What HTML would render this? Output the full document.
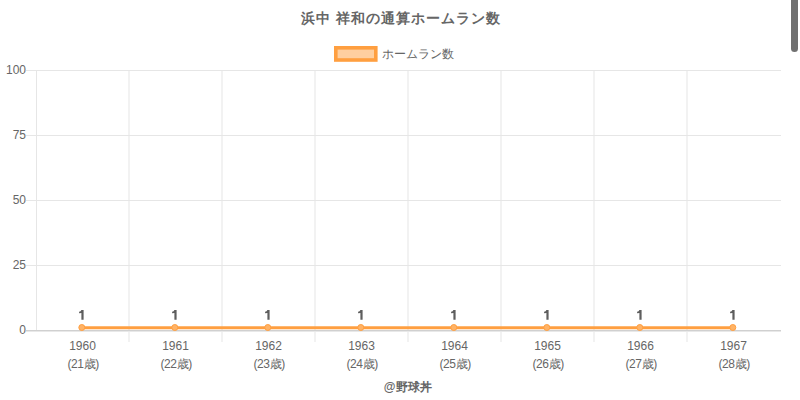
<!DOCTYPE html>
<html><head><meta charset="utf-8"><style>
html,body{margin:0;padding:0;background:#fff;width:800px;height:400px;overflow:hidden}
svg{display:block}
text{font-family:"Liberation Sans",sans-serif;fill:#666}
.t12{font-size:12px}
.b12{font-size:12px;font-weight:bold}
.b14{font-size:14.2px;font-weight:bold;letter-spacing:1px}
</style></head><body>
<svg width="800" height="400" viewBox="0 0 800 400">
<rect x="26" y="70" width="755" height="1" fill="#e6e6e6"/><rect x="26" y="135" width="755" height="1" fill="#e6e6e6"/><rect x="26" y="200" width="755" height="1" fill="#e6e6e6"/><rect x="26" y="265" width="755" height="1" fill="#e6e6e6"/><rect x="36" y="70" width="1" height="260" fill="#e6e6e6"/><rect x="128.5" y="70" width="1" height="272" fill="#e6e6e6"/><rect x="221.5" y="70" width="1" height="272" fill="#e6e6e6"/><rect x="314.5" y="70" width="1" height="272" fill="#e6e6e6"/><rect x="407.5" y="70" width="1" height="272" fill="#e6e6e6"/><rect x="500.5" y="70" width="1" height="272" fill="#e6e6e6"/><rect x="593.5" y="70" width="1" height="272" fill="#e6e6e6"/><rect x="686.5" y="70" width="1" height="272" fill="#e6e6e6"/><rect x="26" y="330" width="755" height="1" fill="#d0d0d0"/><rect x="26" y="331" width="755" height="1" fill="#e8e8e8"/>
<text x="26" y="73.5" text-anchor="end" class="t12">100</text><text x="26" y="138.5" text-anchor="end" class="t12">75</text><text x="26" y="203.5" text-anchor="end" class="t12">50</text><text x="26" y="268.5" text-anchor="end" class="t12">25</text><text x="26" y="333.5" text-anchor="end" class="t12">0</text>
<path d="M81.8 327.8 L732.8 327.8" stroke="#ff9f40" stroke-width="3" fill="none"/>
<circle cx="81.8" cy="327.5" r="3" fill="#ffb366" stroke="#ff9f40" stroke-width="1"/><circle cx="174.8" cy="327.5" r="3" fill="#ffb366" stroke="#ff9f40" stroke-width="1"/><circle cx="267.8" cy="327.5" r="3" fill="#ffb366" stroke="#ff9f40" stroke-width="1"/><circle cx="360.8" cy="327.5" r="3" fill="#ffb366" stroke="#ff9f40" stroke-width="1"/><circle cx="453.8" cy="327.5" r="3" fill="#ffb366" stroke="#ff9f40" stroke-width="1"/><circle cx="546.8" cy="327.5" r="3" fill="#ffb366" stroke="#ff9f40" stroke-width="1"/><circle cx="639.8" cy="327.5" r="3" fill="#ffb366" stroke="#ff9f40" stroke-width="1"/><circle cx="732.8" cy="327.5" r="3" fill="#ffb366" stroke="#ff9f40" stroke-width="1"/>
<path d="M81.40 310 L83.60 310 L83.60 319.8 L81.40 319.8 L81.40 313.1 Q80.30 313.2 79.10 313.3 L79.10 311.8 Q81.00 311.6 81.40 310 Z" fill="#5e5e5e"/><path d="M174.40 310 L176.60 310 L176.60 319.8 L174.40 319.8 L174.40 313.1 Q173.30 313.2 172.10 313.3 L172.10 311.8 Q174.00 311.6 174.40 310 Z" fill="#5e5e5e"/><path d="M267.40 310 L269.60 310 L269.60 319.8 L267.40 319.8 L267.40 313.1 Q266.30 313.2 265.10 313.3 L265.10 311.8 Q267.00 311.6 267.40 310 Z" fill="#5e5e5e"/><path d="M360.40 310 L362.60 310 L362.60 319.8 L360.40 319.8 L360.40 313.1 Q359.30 313.2 358.10 313.3 L358.10 311.8 Q360.00 311.6 360.40 310 Z" fill="#5e5e5e"/><path d="M453.40 310 L455.60 310 L455.60 319.8 L453.40 319.8 L453.40 313.1 Q452.30 313.2 451.10 313.3 L451.10 311.8 Q453.00 311.6 453.40 310 Z" fill="#5e5e5e"/><path d="M546.40 310 L548.60 310 L548.60 319.8 L546.40 319.8 L546.40 313.1 Q545.30 313.2 544.10 313.3 L544.10 311.8 Q546.00 311.6 546.40 310 Z" fill="#5e5e5e"/><path d="M639.40 310 L641.60 310 L641.60 319.8 L639.40 319.8 L639.40 313.1 Q638.30 313.2 637.10 313.3 L637.10 311.8 Q639.00 311.6 639.40 310 Z" fill="#5e5e5e"/><path d="M732.40 310 L734.60 310 L734.60 319.8 L732.40 319.8 L732.40 313.1 Q731.30 313.2 730.10 313.3 L730.10 311.8 Q732.00 311.6 732.40 310 Z" fill="#5e5e5e"/>
<text x="82.5" y="350" text-anchor="middle" class="t12">1960</text><text x="83.2" y="368" text-anchor="middle" class="t12" letter-spacing="-0.35">(21歳)</text><text x="175.5" y="350" text-anchor="middle" class="t12">1961</text><text x="176.2" y="368" text-anchor="middle" class="t12" letter-spacing="-0.35">(22歳)</text><text x="268.5" y="350" text-anchor="middle" class="t12">1962</text><text x="269.2" y="368" text-anchor="middle" class="t12" letter-spacing="-0.35">(23歳)</text><text x="361.5" y="350" text-anchor="middle" class="t12">1963</text><text x="362.2" y="368" text-anchor="middle" class="t12" letter-spacing="-0.35">(24歳)</text><text x="454.5" y="350" text-anchor="middle" class="t12">1964</text><text x="455.2" y="368" text-anchor="middle" class="t12" letter-spacing="-0.35">(25歳)</text><text x="547.5" y="350" text-anchor="middle" class="t12">1965</text><text x="548.2" y="368" text-anchor="middle" class="t12" letter-spacing="-0.35">(26歳)</text><text x="640.5" y="350" text-anchor="middle" class="t12">1966</text><text x="641.2" y="368" text-anchor="middle" class="t12" letter-spacing="-0.35">(27歳)</text><text x="733.5" y="350" text-anchor="middle" class="t12">1967</text><text x="734.2" y="368" text-anchor="middle" class="t12" letter-spacing="-0.35">(28歳)</text>
<text x="401" y="23" text-anchor="middle" class="b14">浜中 祥和の通算ホームラン数</text>
<rect x="335.8" y="47.8" width="40" height="12.2" fill="#ffcf9f" stroke="#ff9f40" stroke-width="3.6"/>
<text x="382" y="58" class="t12">ホームラン数</text>
<text x="407.7" y="391.3" text-anchor="middle" class="b12">@野球丼</text>
<rect x="791" y="-10" width="7" height="62" rx="3.5" fill="#707070"/>
</svg>
</body></html>
